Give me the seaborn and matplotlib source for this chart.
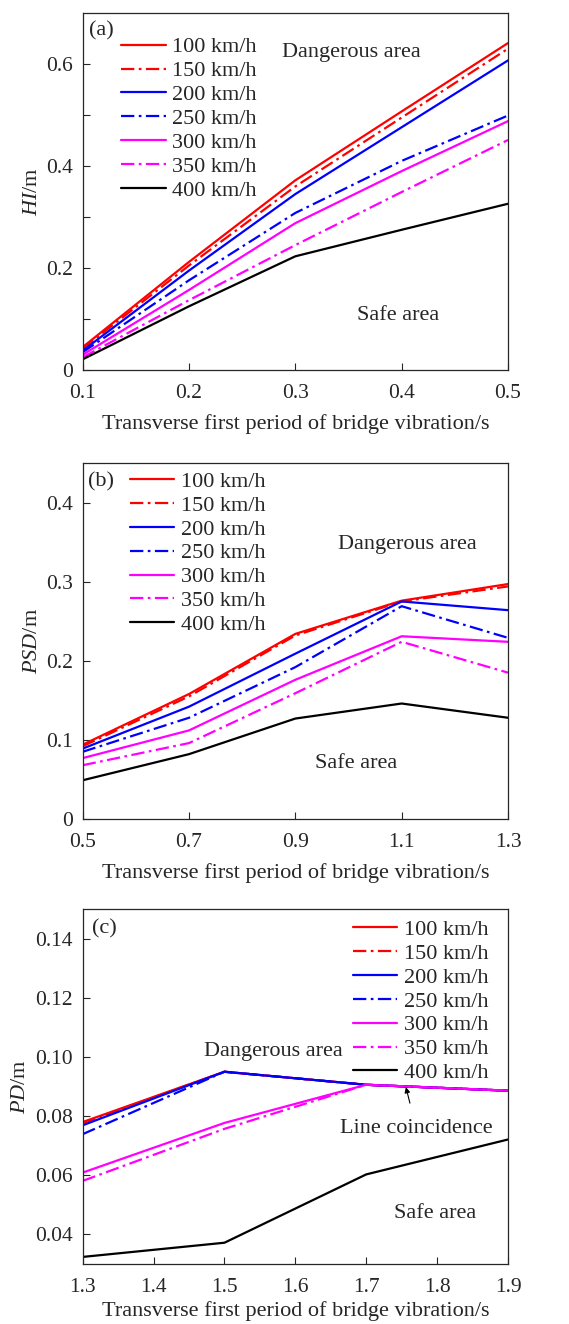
import matplotlib
matplotlib.use("Agg")
import matplotlib.pyplot as plt
import seaborn as sns
import pandas as pd

sns.set_style("ticks")
plt.rcParams['font.family'] = ['Liberation Serif', 'DejaVu Serif']
plt.rcParams['mathtext.fontset'] = 'custom'
plt.rcParams['mathtext.it'] = 'Liberation Serif:italic'
plt.rcParams['mathtext.rm'] = 'Liberation Serif'

speeds = ["100 km/h", "150 km/h", "200 km/h", "250 km/h", "300 km/h", "350 km/h", "400 km/h"]
colors = ["#FF0000", "#FF0000", "#0000FF", "#0000FF", "#FF00FF", "#FF00FF", "#000000"]
dashdot = (0, (6, 2, 1.2, 2))
styles = ["-", dashdot, "-", dashdot, "-", dashdot, "-"]

# Panel (a): HI
xa = [0.1, 0.2, 0.3, 0.4, 0.5]
hi_100 = [0.045, 0.212, 0.372, 0.507, 0.641]
hi_150 = [0.042, 0.205, 0.360, 0.495, 0.630]
hi_200 = [0.038, 0.195, 0.345, 0.476, 0.607]
hi_250 = [0.035, 0.176, 0.308, 0.410, 0.499]
hi_300 = [0.030, 0.157, 0.288, 0.390, 0.488]
hi_350 = [0.025, 0.137, 0.245, 0.349, 0.451]
hi_400 = [0.021, 0.125, 0.223, 0.275, 0.326]

# Panel (b): PSD
xb = [0.5, 0.7, 0.9, 1.1, 1.3]
psd_100 = [0.094, 0.158, 0.234, 0.276, 0.297]
psd_150 = [0.092, 0.155, 0.232, 0.275, 0.294]
psd_200 = [0.089, 0.142, 0.209, 0.275, 0.264]
psd_250 = [0.085, 0.128, 0.192, 0.269, 0.229]
psd_300 = [0.077, 0.112, 0.176, 0.231, 0.224]
psd_350 = [0.068, 0.096, 0.159, 0.224, 0.185]
psd_400 = [0.049, 0.082, 0.127, 0.146, 0.128]

# Panel (c): PD
xc = [1.3, 1.5, 1.7, 1.9]
pd_100 = [0.0780, 0.0950, 0.0906, 0.0886]
pd_150 = [0.0776, 0.0950, 0.0906, 0.0886]
pd_200 = [0.0769, 0.0950, 0.0906, 0.0886]
pd_250 = [0.0739, 0.0950, 0.0906, 0.0886]
pd_300 = [0.0609, 0.0777, 0.0906, 0.0886]
pd_350 = [0.0581, 0.0757, 0.0906, 0.0886]
pd_400 = [0.0324, 0.0372, 0.0603, 0.0721]

xlabel = "Transverse first period of bridge vibration/s"

fig = plt.figure(figsize=(5.69, 13.24), dpi=100)
L, W = 0.1453, 0.7475
axa = fig.add_axes([L, 0.7205, W, 0.2697])
axb = fig.add_axes([L, 0.3814, W, 0.2689])
axc = fig.add_axes([L, 0.0453, W, 0.2681])

panels = [
    (axa, xa, [hi_100, hi_150, hi_200, hi_250, hi_300, hi_350, hi_400]),
    (axb, xb, [psd_100, psd_150, psd_200, psd_250, psd_300, psd_350, psd_400]),
    (axc, xc, [pd_100, pd_150, pd_200, pd_250, pd_300, pd_350, pd_400]),
]

for ax, x, series in panels:
    for name, vals, c, ls in zip(speeds, series, colors, styles):
        df = pd.DataFrame({"x": x, "y": vals})
        sns.lineplot(data=df, x="x", y="y", ax=ax, color=c, linestyle=ls,
                     linewidth=1.6, label=name, legend=False)

FS = 16
TFS = 15.5
for ax in (axa, axb, axc):
    ax.tick_params(direction="in", length=5, width=0.8, labelsize=TFS,
                   top=False, right=False)
    ax.tick_params(axis="x", pad=10)
    ax.tick_params(axis="y", pad=7)
    for s in ax.spines.values():
        s.set_linewidth(0.9)
    ax.set_xlabel(xlabel, fontsize=FS, labelpad=8)
axc.xaxis.labelpad = 3

# Panel a
axa.set_xlim(0.1, 0.5)
axa.set_ylim(0, 0.7)
axa.set_xticks([0.1, 0.2, 0.3, 0.4, 0.5])
axa.set_xticklabels(["0.1", "0.2", "0.3", "0.4", "0.5"])
axa.set_yticks([0, 0.1, 0.2, 0.3, 0.4, 0.5, 0.6])
axa.set_yticklabels(["0", "", "0.2", "", "0.4", "", "0.6"])
axa.set_ylabel(r"$\it{HI}$/m", fontsize=FS)
axa.yaxis.set_label_coords(-0.096, 0.5)
axa.text(0.044, 0.95, "(a)", transform=axa.transAxes, fontsize=FS, ha="center", va="center")
axa.text(0.631, 0.888, "Dangerous area", transform=axa.transAxes, fontsize=FS, ha="center", va="center")
axa.text(0.741, 0.154, "Safe area", transform=axa.transAxes, fontsize=FS, ha="center", va="center")
axa.legend(loc="upper left", bbox_to_anchor=(0.07, 0.958), frameon=False, fontsize=FS,
           handlelength=2.0, labelspacing=0.15, handletextpad=0.3, borderaxespad=0)

# Panel b
axb.set_xlim(0.5, 1.3)
axb.set_ylim(0, 0.45)
axb.set_xticks([0.5, 0.7, 0.9, 1.1, 1.3])
axb.set_xticklabels(["0.5", "0.7", "0.9", "1.1", "1.3"])
axb.set_yticks([0, 0.1, 0.2, 0.3, 0.4])
axb.set_yticklabels(["0", "0.1", "0.2", "0.3", "0.4"])
axb.set_ylabel(r"$\it{PSD}$/m", fontsize=FS)
axb.yaxis.set_label_coords(-0.096, 0.5)
axb.text(0.044, 0.947, "(b)", transform=axb.transAxes, fontsize=FS, ha="center", va="center")
axb.text(0.764, 0.770, "Dangerous area", transform=axb.transAxes, fontsize=FS, ha="center", va="center")
axb.text(0.642, 0.157, "Safe area", transform=axb.transAxes, fontsize=FS, ha="center", va="center")
axb.legend(loc="upper left", bbox_to_anchor=(0.09, 1.002), frameon=False, fontsize=FS,
           handlelength=2.0, labelspacing=0.15, handletextpad=0.3, borderaxespad=0)

# Panel c
axc.set_xlim(1.3, 1.9)
axc.set_ylim(0.03, 0.15)
axc.set_xticks([1.3, 1.4, 1.5, 1.6, 1.7, 1.8, 1.9])
axc.set_xticklabels(["1.3", "1.4", "1.5", "1.6", "1.7", "1.8", "1.9"])
axc.set_yticks([0.04, 0.06, 0.08, 0.10, 0.12, 0.14])
axc.set_yticklabels(["0.04", "0.06", "0.08", "0.10", "0.12", "0.14"])
axc.set_ylabel(r"$\it{PD}$/m", fontsize=FS)
axc.yaxis.set_label_coords(-0.124, 0.5)
axc.text(0.05, 0.944, "(c)", transform=axc.transAxes, fontsize=FS, ha="center", va="center")
axc.text(0.449, 0.598, "Dangerous area", transform=axc.transAxes, fontsize=FS, ha="center", va="center")
axc.text(0.828, 0.141, "Safe area", transform=axc.transAxes, fontsize=FS, ha="center", va="center")
axc.annotate("Line coincidence", xy=(1.756, 0.0898), xytext=(0.784, 0.383),
             textcoords="axes fraction", fontsize=FS, ha="center", va="center",
             arrowprops=dict(arrowstyle="-|>", color="black", lw=0.8, mutation_scale=8,
                             shrinkA=9, shrinkB=0))
axc.legend(loc="upper right", bbox_to_anchor=(0.975, 0.996), frameon=False, fontsize=FS,
           handlelength=2.0, labelspacing=0.15, handletextpad=0.3, borderaxespad=0)

fig.savefig("out.png", dpi=100)
